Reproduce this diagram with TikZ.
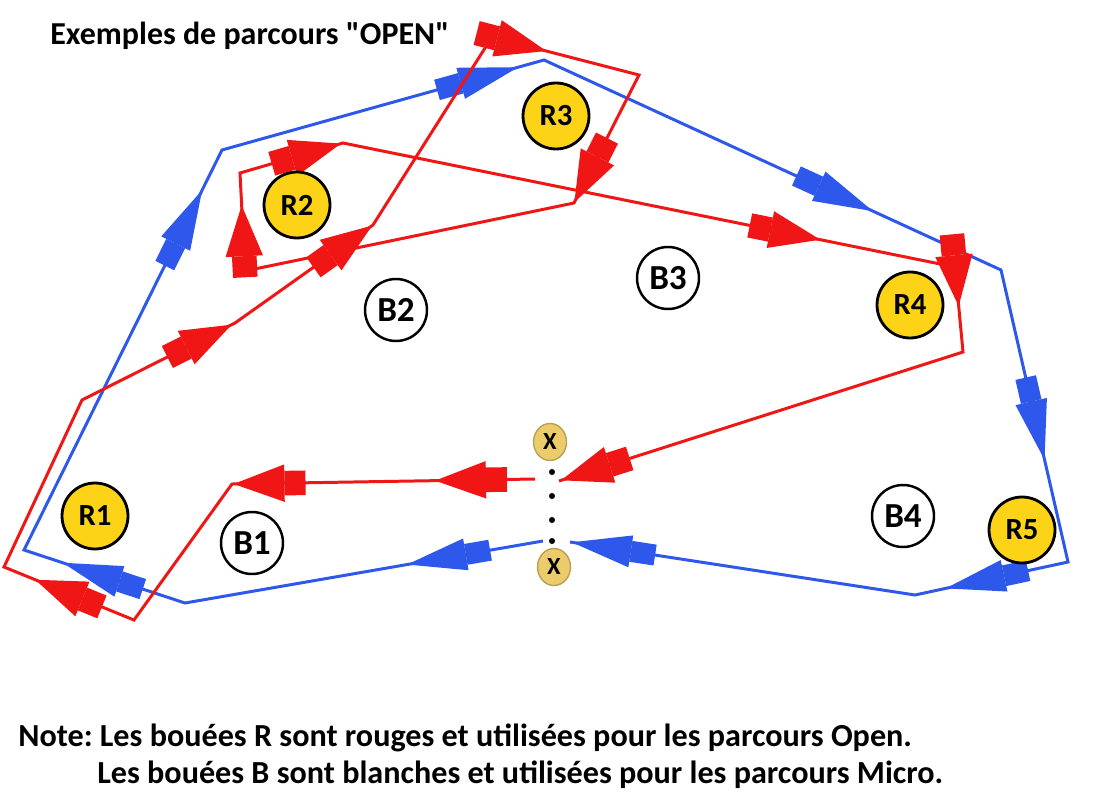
\documentclass[tikz,border=0pt]{standalone}
\usepackage{fontspec}
\setmainfont{Carlito}[Ligatures=TeXOff]
\frenchspacing
\usepackage{tikz}
\usetikzlibrary{arrows.meta,decorations.markings,shapes.geometric}
\definecolor{bouee}{RGB}{252,211,22}
\definecolor{portejaune}{RGB}{236,204,106}
\definecolor{porteborde}{RGB}{185,160,85}
\definecolor{rouge}{RGB}{240,22,22}
\definecolor{bleu}{RGB}{45,88,235}
\tikzset{
  boueeR/.style={circle,draw,line width=1.6pt,fill=bouee,minimum size=1.32cm,inner sep=0pt,
    font=\fontsize{17.5}{17.5}\selectfont\bfseries},
  boueeB/.style={circle,draw,line width=1.4pt,fill=white,minimum size=1.24cm,inner sep=0pt,
    font=\fontsize{20}{20}\selectfont\bfseries},
  porte/.style={ellipse,draw=porteborde,line width=0.8pt,fill=portejaune,minimum width=0.66cm,
    minimum height=0.74cm,inner sep=0pt,font=\fontsize{14}{14}\selectfont\bfseries},
  point/.style={circle,fill=black,inner sep=0pt,minimum size=0.12cm},
  trajetR/.style={draw=rouge,line width=1.7pt},
  trajetB/.style={draw=bleu,line width=1.7pt},
  flecheR/.style={color=rouge,line width=1.2pt,postaction={decorate,decoration={markings,
    mark=at position #1 with {\arrow{Rectangle[length=12pt,width=14pt] Triangle[length=29pt,width=21pt]}}}}},
  flecheB/.style={color=bleu,line width=1.2pt,postaction={decorate,decoration={markings,
    mark=at position #1 with {\arrow{Rectangle[length=14pt,width=12pt] Triangle[length=34pt,width=18pt]}}}}},
}

\begin{document}
\begin{tikzpicture}[x=0.02cm,y=-0.02cm]
\useasboundingbox (0,0) rectangle (1097,793);

% parcours bleu
\coordinate (bgL) at (543,541);
\coordinate (b1) at (185,603);
\coordinate (b2) at (24,550);
\coordinate (b3) at (222,150);
\coordinate (b4) at (544,60);
\coordinate (b5) at (1001,270);
\coordinate (b6) at (1068,562);
\coordinate (b7) at (915,595);
\coordinate (bgR) at (570,542);
\draw[trajetB] (bgL) -- (b1) -- (b2) -- (b3) -- (b4) -- (b5) -- (b6) -- (b7) -- (bgR);
\path[flecheB=0.38] (bgL) -- (b1);
\path[flecheB=0.76] (b1) -- (b2);
\path[flecheB=0.9] (b2) -- (b3);
\path[flecheB=0.92] (b3) -- (b4);
\path[flecheB=0.72] (b4) -- (b5);
\path[flecheB=0.65] (b5) -- (b6);
\path[flecheB=0.8] (b6) -- (b7);
\path[flecheB=0.995] (b7) -- (bgR);

% parcours rouge
\coordinate (rgL) at (535,479);
\coordinate (r1) at (232,484);
\coordinate (r2) at (134,620);
\coordinate (r3) at (4,567);
\coordinate (r4) at (82,400);
\coordinate (r5) at (235,323);
\coordinate (r6) at (373,225);
\coordinate (r7) at (492,37);
\coordinate (r8) at (639,75);
\coordinate (r9) at (574,203);
\coordinate (r10) at (245,271);
\coordinate (r11) at (240,173);
\coordinate (r12) at (343,143);
\coordinate (r13) at (955,267);
\coordinate (r14) at (963,352);
\coordinate (rgR) at (559,481);
\draw[trajetR] (rgL) -- (r1) -- (r2) -- (r3) -- (r4) -- (r5) -- (r6) -- (r7) -- (r8) -- (r9)
  -- (r10) -- (r11) -- (r12) -- (r13) -- (r14) -- (rgR);
\path[flecheR=0.33,flecheR=0.995] (rgL) -- (r1);
\path[flecheR=0.76] (r2) -- (r3);
\path[flecheR=0.98] (r4) -- (r5);
\path[flecheR=0.995] (r5) -- (r6);
\path[flecheR=0.37] (r7) -- (r8);
\path[flecheR=0.995] (r8) -- (r9);
\path[flecheR=0.67] (r10) -- (r11);
\path[flecheR=0.98] (r11) -- (r12);
\path[flecheR=0.78] (r12) -- (r13);
\path[flecheR=0.46] (r13) -- (r14);
\path[flecheR=0.995] (r14) -- (rgR);

% bouees
\node[boueeR] (R1) at (95,516) {R1};
\node[boueeR] (R2) at (297,205) {R2};
\node[boueeR] (R3) at (556,116) {R3};
\node[boueeR] (R4) at (910,305) {R4};
\node[boueeR] (R5) at (1022,530) {R5};
\node[boueeB] (B1) at (252,543) {B1};
\node[boueeB] (B2) at (396,310) {B2};
\node[boueeB] (B3) at (668,278) {B3};
\node[boueeB] (B4) at (903,516) {B4};

% porte de depart
\node[porte] (XA) at (550,442) {X};
\node[porte] (XB) at (554,567) {X};
\foreach \y [count=\i] in {472,496,520,541}
  \node[point] (P\i) at (552,\y) {};

% textes
\node[anchor=base west,inner sep=0pt,font=\fontsize{18.2}{18.2}\selectfont\bfseries] (titre) at (50,45)
  {Exemples de parcours "OPEN"};
\node[anchor=base west,inner sep=0pt,font=\fontsize{18.3}{18.3}\selectfont\bfseries] (note1) at (18,746)
  {Note: Les bouées R sont rouges et utilisées pour les parcours Open.};
\node[anchor=base west,inner sep=0pt,font=\fontsize{18.3}{18.3}\selectfont\bfseries] (note2) at (97,783)
  {Les bouées B sont blanches et utilisées pour les parcours Micro.};
\end{tikzpicture}
\end{document}
